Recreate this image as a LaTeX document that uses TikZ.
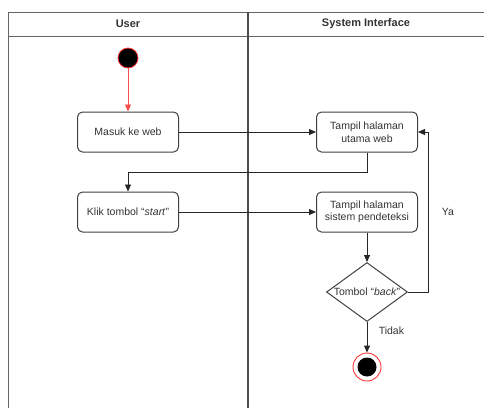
\documentclass[tikz,border=0pt]{standalone}
\usepackage{fontspec}
\setmainfont{Liberation Sans}
\usetikzlibrary{shapes.geometric,arrows.meta}

\tikzstyle{activity}=[rectangle, rounded corners=5pt, draw=black!75, line width=1pt, minimum width=101pt, minimum height=40pt, align=center, text=black!80, font=\fontsize{10.5}{12.5}\selectfont]
\tikzstyle{decision}=[diamond, draw=black!75, line width=1pt, minimum width=81pt, minimum height=59pt, inner sep=0pt]
\tikzstyle{flow}=[draw=black!85, line width=0.9pt, -{Triangle[length=7pt,width=6pt]}]
\tikzstyle{lane}=[draw=black!60, line width=1pt]

\begin{document}
\begin{tikzpicture}[x=1pt, y=-1pt]
\useasboundingbox (0,0) rectangle (484,408);

% swimlanes
\draw[lane] (8,408) -- (8,12) -- (484,12);
\draw[lane] (8,36) -- (484,36);
\draw[lane, draw=black!70, line width=1.3pt] (248,12) -- (248,408);
\node[font=\fontsize{11}{13}\selectfont\bfseries, text=black!80] (user) at (128,24) {User};
\node[font=\fontsize{11}{13}\selectfont\bfseries, text=black!80] (sys) at (366,24) {System Interface};

\node[circle, fill=black, draw=red!80, line width=0.8pt, minimum size=20pt, inner sep=0pt](start) at (128,58) {};
\node[activity](masuk) at (128,132) {Masuk ke web};
\node[activity](klik) at (128,212) {Klik tombol “\textit{start}”};
\node[activity](utama) at (367,132) {Tampil halaman\\utama web};
\node[activity](sistem) at (367,212) {Tampil halaman\\sistem pendeteksi};
\node[decision, label={[text=black!80, font=\fontsize{10.5}{12.5}\selectfont]center:Tombol “\textit{back}”}](back) at (367,292) {};
\node[circle, draw=red!80, line width=0.9pt, minimum size=28pt, inner sep=0pt,
      path picture={\fill[black] (path picture bounding box.center) circle (9.5pt);}](end) at (367,367) {};

\begin{scope}[every node/.style={text=black!80, font=\fontsize{10.5}{12.5}\selectfont}]
       \draw[flow, draw=red!70] (start) -- (masuk);
       \draw[flow] (masuk) -- (utama);
       \draw[flow] (utama.south) -- ++(0,20) -| (klik.north);
       \draw[flow] (klik) -- (sistem);
       \draw[flow] (sistem) -- (back);
       \draw[flow] (back.east) -- ++(20,0) |- node [pos=0.25, anchor=west, xshift=10pt] {Ya} (utama.east);
       \draw[flow] (back.south) -- node [pos=0.3, anchor=west, xshift=8pt] {Tidak} (end);
\end{scope}
\end{tikzpicture}
\end{document}
